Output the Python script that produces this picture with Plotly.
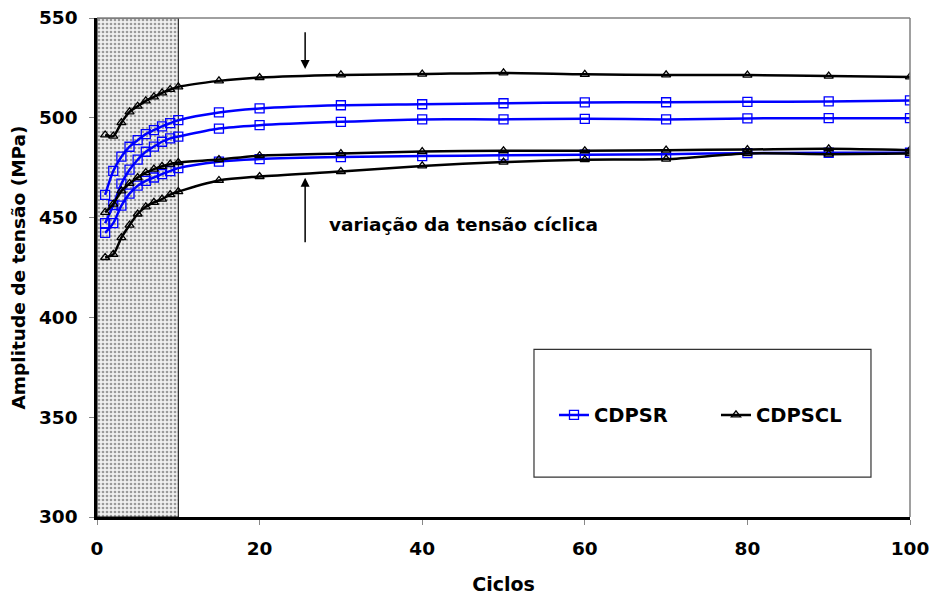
import plotly.graph_objects as go

# ---------------- data ----------------
ciclos = [1, 2, 3, 4, 5, 6, 7, 8, 9, 10, 15, 20, 30, 40, 50, 60, 70, 80, 90, 100]

cdpsr_1 = [461.4, 473.4, 480.5, 485.5, 488.8, 491.8, 493.8, 495.7, 497.3, 498.8,
           502.7, 504.7, 506.3, 506.8, 507.3, 507.7, 507.8, 508.0, 508.2, 508.7]
cdpsr_2 = [447.2, 456.2, 467.0, 474.0, 479.0, 483.0, 485.6, 488.0, 489.7, 490.6,
           494.6, 496.3, 498.0, 499.2, 499.2, 499.5, 499.2, 499.7, 499.8, 499.8]
cdpsr_3 = [442.3, 447.2, 456.0, 462.0, 466.0, 468.4, 470.1, 471.8, 473.3, 474.8,
           478.0, 479.3, 480.3, 480.8, 481.2, 481.5, 481.8, 482.3, 482.5, 482.5]

cdpscl_1 = [491.4, 490.8, 497.6, 503.0, 505.8, 508.5, 510.5, 512.5, 514.2, 515.5,
            518.5, 520.2, 521.5, 521.9, 522.5, 521.8, 521.5, 521.4, 520.9, 520.5]
cdpscl_2 = [452.6, 456.8, 463.4, 467.1, 470.1, 472.5, 474.3, 475.7, 476.8, 477.6,
            479.1, 481.0, 482.1, 483.1, 483.5, 483.5, 483.8, 484.1, 484.5, 483.8]
cdpscl_3 = [430.0, 431.6, 440.0, 446.2, 451.8, 455.4, 457.6, 459.3, 461.5, 463.0,
            468.6, 470.6, 473.1, 475.9, 477.8, 479.0, 479.3, 482.1, 481.8, 482.1]

series_sr = [cdpsr_1, cdpsr_2, cdpsr_3]
series_scl = [cdpscl_1, cdpscl_2, cdpscl_3]

shade_x = [0, 10]          # shaded transient region (cycles)
x_range = [0, 100]
y_range = [300, 550]
x_ticks = [0, 20, 40, 60, 80, 100]
y_ticks = [300, 350, 400, 450, 500, 550]

annot_text = "variação da tensão cíclica"
annot_pos = (28.3, 446.4)
arrow_x = 25.6
top_arrow = (543.6, 524.5)      # tail, head
bottom_arrow = (436.9, 470.0)   # tail, head

FONT = "DejaVu Sans, Liberation Sans, Arial, sans-serif"

fig = go.Figure()

# shaded region
fig.add_trace(go.Scatter(
    x=[shade_x[0], shade_x[1], shade_x[1], shade_x[0], shade_x[0]],
    y=[y_range[0], y_range[0], y_range[1], y_range[1], y_range[0]],
    fill="toself", mode="lines",
    line=dict(color="black", width=1),
    fillcolor="#e6e6e6",
    fillpattern=dict(shape=".", fgcolor="#9a9a9a", bgcolor="#f0f0f0",
                     size=4, solidity=0.35),
    showlegend=False, hoverinfo="skip",
))

for i, ys in enumerate(series_sr):
    fig.add_trace(go.Scatter(
        x=ciclos, y=ys, mode="lines+markers", name="CDPSR",
        legendgroup="sr", showlegend=(i == 0),
        line=dict(color="#0000ff", width=2.5, shape="spline", smoothing=0.8),
        marker=dict(symbol="square-open", size=9, color="#0000ff",
                    line=dict(width=1.3, color="#0000ff")),
    ))

for i, ys in enumerate(series_scl):
    fig.add_trace(go.Scatter(
        x=ciclos, y=ys, mode="lines+markers", name="CDPSCL",
        legendgroup="scl", showlegend=(i == 0),
        line=dict(color="black", width=2.5, shape="spline", smoothing=0.8),
        marker=dict(symbol="triangle-up-open", size=8, color="black",
                    line=dict(width=1.3, color="black")),
    ))

# arrows
for tail, head in (top_arrow, bottom_arrow):
    fig.add_annotation(x=arrow_x, y=head, ax=arrow_x, ay=tail,
                       xref="x", yref="y", axref="x", ayref="y", text="",
                       showarrow=True, arrowhead=2, arrowsize=1.2, arrowwidth=1.5,
                       arrowcolor="black")
fig.add_annotation(x=annot_pos[0], y=annot_pos[1], xref="x", yref="y", text=annot_text,
                   showarrow=False, xanchor="left", yanchor="middle",
                   font=dict(family=FONT, size=18.5, color="black", weight="bold"))

# legend box
fig.add_shape(type="rect", xref="paper", yref="paper",
              x0=0.5375, x1=0.952, y0=0.08, y1=0.336,
              line=dict(color="#333333", width=1.2), fillcolor="white", layer="below")

fig.update_layout(
    template="none",
    width=932, height=598,
    margin=dict(l=97, r=22, t=18, b=81, autoexpand=False),
    paper_bgcolor="white", plot_bgcolor="white",
    font=dict(family=FONT, color="black"),
    showlegend=True,
    legend=dict(orientation="h", x=0.5621, y=0.204, xanchor="left", yanchor="middle",
                bgcolor="rgba(0,0,0,0)", borderwidth=0,
                font=dict(family=FONT, size=19.5, weight="bold", color="black"),
                entrywidth=117, itemwidth=30),
    xaxis=dict(range=x_range, tickvals=x_ticks, showgrid=False, zeroline=False,
               automargin=False,
               showline=True, linecolor="black", linewidth=2.5,
               ticks="outside", ticklen=5, tickcolor="#888888", tickwidth=1,
               ticklabelstandoff=8,
               tickfont=dict(family=FONT, size=18.5, weight="bold"),
               title=dict(text="Ciclos", standoff=20,
                          font=dict(family=FONT, size=19, weight="bold"))),
    yaxis=dict(range=y_range, tickvals=y_ticks, showgrid=False, zeroline=False,
               automargin=False,
               showline=True, linecolor="black", linewidth=2.5,
               ticks="outside", ticklen=5, tickcolor="#888888", tickwidth=1,
               ticklabelstandoff=8,
               tickfont=dict(family=FONT, size=18.5, weight="bold"),
               title=dict(text="Amplitude de tensão (MPa)", standoff=9,
                          font=dict(family=FONT, size=18.5, weight="bold"))),
)

# grey plot-area border on top/right
fig.add_shape(type="line", xref="paper", yref="paper", x0=0, x1=1, y0=1, y1=1,
              line=dict(color="#808080", width=1.5))
fig.add_shape(type="line", xref="paper", yref="paper", x0=1, x1=1, y0=0, y1=1,
              line=dict(color="#808080", width=1.5))

fig.write_html("out.html")
